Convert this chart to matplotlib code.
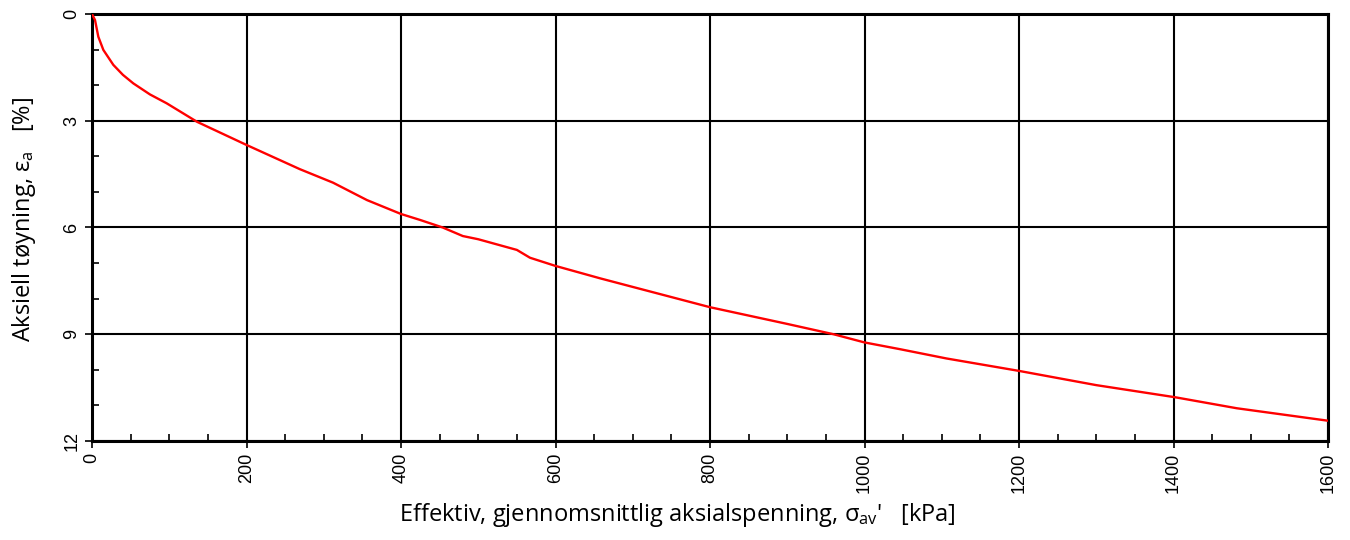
import matplotlib
matplotlib.use("Agg")
import matplotlib.pyplot as plt
from matplotlib.ticker import MultipleLocator

# data (stress in kPa, strain in %)
stress = [0, 3.9, 8.2, 14.7, 27.6, 40, 53.5, 75, 96.7, 136, 200, 269, 312,
          356, 400, 425, 454, 480, 500, 550, 567, 600, 658, 700, 800, 900,
          960, 1000, 1046, 1106, 1200, 1300, 1402, 1482, 1600]
strain = [0, 0.17, 0.64, 1.01, 1.43, 1.71, 1.95, 2.26, 2.51, 3.03, 3.68,
          4.36, 4.74, 5.23, 5.62, 5.79, 6.0, 6.24, 6.33, 6.63, 6.85, 7.08,
          7.43, 7.67, 8.24, 8.71, 9.0, 9.23, 9.42, 9.68, 10.03, 10.43,
          10.77, 11.08, 11.43]

x_ticks = [0, 200, 400, 600, 800, 1000, 1200, 1400, 1600]
y_ticks = [0, 3, 6, 9, 12]

plt.rcParams["mathtext.fontset"] = "custom"
plt.rcParams["mathtext.rm"] = "Liberation Sans"

fig = plt.figure(figsize=(13.5, 5.4), dpi=100)
ax = fig.add_axes([92 / 1350, 1 - 441 / 540, 1236 / 1350, 427 / 540])

ax.plot(stress, strain, color="#ff0000", lw=1.7, zorder=3)

ax.set_xlim(0, 1600)
ax.set_ylim(12, 0)
ax.set_xticks(x_ticks)
ax.set_yticks(y_ticks)
ax.xaxis.set_minor_locator(MultipleLocator(50))
ax.yaxis.set_minor_locator(MultipleLocator(1))
ax.grid(True, which="major", color="black", lw=1.5)

for s in ax.spines.values():
    s.set_linewidth(2.2)

ax.tick_params(which="major", direction="out", length=5, width=1.2,
               labelsize=13)
ax.tick_params(which="minor", direction="in", length=5, width=1.2)
for lab in ax.get_xticklabels() + ax.get_yticklabels():
    lab.set_fontfamily("Liberation Sans")
    lab.set_rotation(90)
for lab in ax.get_yticklabels():
    lab.set_va("center")

ax.set_xlabel("Effektiv, gjennomsnittlig aksialspenning, $\\mathregular{\\sigma_{av}}$'   [kPa]",
              fontfamily="Open Sans", fontsize=17)
ax.xaxis.set_label_coords(0.474, -0.14)
ax.set_ylabel("Aksiell tøyning, $\\mathregular{\\varepsilon_a}$   [%]",
              fontfamily="Open Sans", fontsize=17)
ax.yaxis.set_label_coords(-0.044, 0.518)

fig.savefig("out.png", dpi=100)
